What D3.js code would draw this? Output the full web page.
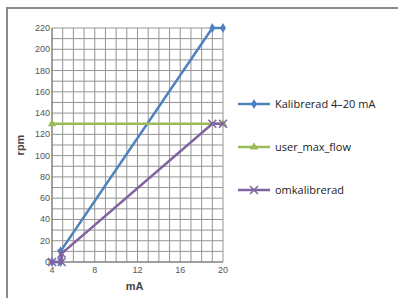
<!DOCTYPE html>
<html lang="en">
<head>
    <meta charset="UTF-8">
    <title>rpm vs mA</title>
    <script src="https://d3js.org/d3.v7.min.js"></script>
    <style>
        body { margin: 0; background: #fff; }
        .tick-label { font: 9px "Liberation Sans", Arial, sans-serif; fill: #555; }
        .axis-title { font: bold 11px "Liberation Sans", Arial, sans-serif; fill: #444; }
        .legend text { font: 11px "Open Sans", sans-serif; fill: #222; }
    </style>
</head>
<body>
    <svg width="398" height="298"></svg>

    <script>
        // data
        const kalibMA  = [4, 4.8, 4.8, 19, 20];
        const kalibRpm = [0, 0, 10, 220, 220];
        const userMA   = [4, 20];
        const userRpm  = [130, 130];
        const omkMA    = [4, 4.9, 4.9, 19, 20];
        const omkRpm   = [0, 0, 8, 130, 130];
        const xTicks = [4, 8, 12, 16, 20];
        const yTicks = [0, 20, 40, 60, 80, 100, 120, 140, 160, 180, 200, 220];
        const seriesNames = ["Kalibrerad 4–20 mA", "user_max_flow", "omkalibrerad"];
        const colors = ["#4f81bd", "#9bbb59", "#8064a2"];

        const svg = d3.select("svg");

        // outer frame (runs off the right and bottom edge)
        svg.append("rect")
            .attr("x", 7).attr("y", 8)
            .attr("width", 420).attr("height", 320)
            .attr("fill", "none").attr("stroke", "#8c8c8c").attr("stroke-width", 2);

        const x = d3.scaleLinear().domain([4, 20]).range([52, 223]);
        const y = d3.scaleLinear().domain([0, 220]).range([262, 28]);

        // grid: every 1 mA and every 10 rpm
        const g = svg.append("g");
        g.selectAll(".vgrid").data(d3.range(4, 21, 1)).enter().append("line")
            .attr("x1", d => x(d)).attr("x2", d => x(d))
            .attr("y1", y(220)).attr("y2", y(0))
            .attr("stroke", "#959595").attr("stroke-width", 1);
        g.selectAll(".hgrid").data(d3.range(0, 221, 10)).enter().append("line")
            .attr("x1", x(4)).attr("x2", x(20))
            .attr("y1", d => y(d)).attr("y2", d => y(d))
            .attr("stroke", "#959595").attr("stroke-width", 1);

        // axes
        g.append("line").attr("x1", x(4)).attr("x2", x(4)).attr("y1", y(220)).attr("y2", y(0))
            .attr("stroke", "#777");
        g.append("line").attr("x1", x(4)).attr("x2", x(20)).attr("y1", y(0)).attr("y2", y(0))
            .attr("stroke", "#777");

        g.selectAll(".yl").data(yTicks).enter().append("text")
            .attr("class", "tick-label")
            .attr("x", x(4) - 2).attr("y", d => y(d) + 3)
            .attr("text-anchor", "end").text(d => d);
        g.selectAll(".xl").data(xTicks).enter().append("text")
            .attr("class", "tick-label")
            .attr("x", d => x(d)).attr("y", y(0) + 11)
            .attr("text-anchor", "middle").text(d => d);

        svg.append("text").attr("class", "axis-title")
            .attr("transform", `translate(24,${y(110)}) rotate(-90)`)
            .attr("text-anchor", "middle").text("rpm");
        svg.append("text").attr("class", "axis-title")
            .attr("x", x(12) - 3).attr("y", 290)
            .attr("text-anchor", "middle").text("mA");

        // markers
        const diamond = d3.symbol().type(d3.symbolDiamond).size(30);
        const triangle = d3.symbol().type(d3.symbolTriangle).size(30);
        function cross(sel, c) {
            sel.append("path").attr("d", "M-4,-4L4,4M-4,4L4,-4")
                .attr("stroke", c).attr("stroke-width", 1.5).attr("fill", "none");
        }

        const series = [
            { xs: kalibMA, ys: kalibRpm, mark: "diamond" },
            { xs: userMA, ys: userRpm, mark: "triangle" },
            { xs: omkMA, ys: omkRpm, mark: "cross" }
        ];

        const line = d3.line().x(d => x(d[0])).y(d => y(d[1]));

        series.forEach((s, i) => {
            const pts = s.xs.map((v, j) => [v, s.ys[j]]);
            svg.append("path").datum(pts)
                .attr("d", line)
                .attr("fill", "none").attr("stroke", colors[i]).attr("stroke-width", 2.5);
            const m = svg.selectAll(null).data(pts).enter().append("g")
                .attr("transform", d => `translate(${x(d[0])},${y(d[1])})`);
            if (s.mark === "diamond") m.append("path").attr("d", diamond).attr("fill", colors[i]);
            else if (s.mark === "triangle") m.append("path").attr("d", triangle).attr("fill", colors[i]);
            else m.each(function () { cross(d3.select(this), colors[i]); });
        });

        // legend
        const lg = svg.append("g").attr("class", "legend");
        const legY = [104, 147, 190];
        seriesNames.forEach((name, i) => {
            const row = lg.append("g").attr("transform", `translate(0,${legY[i]})`);
            row.append("line").attr("x1", 238).attr("x2", 270)
                .attr("stroke", colors[i]).attr("stroke-width", 2.5);
            const mk = row.append("g").attr("transform", "translate(254,0)");
            if (i === 0) mk.append("path").attr("d", diamond).attr("fill", colors[i]);
            else if (i === 1) mk.append("path").attr("d", triangle).attr("fill", colors[i]);
            else cross(mk, colors[i]);
            row.append("text").attr("x", 275).attr("y", 4).text(name);
        });
    </script>
</body>
</html>
